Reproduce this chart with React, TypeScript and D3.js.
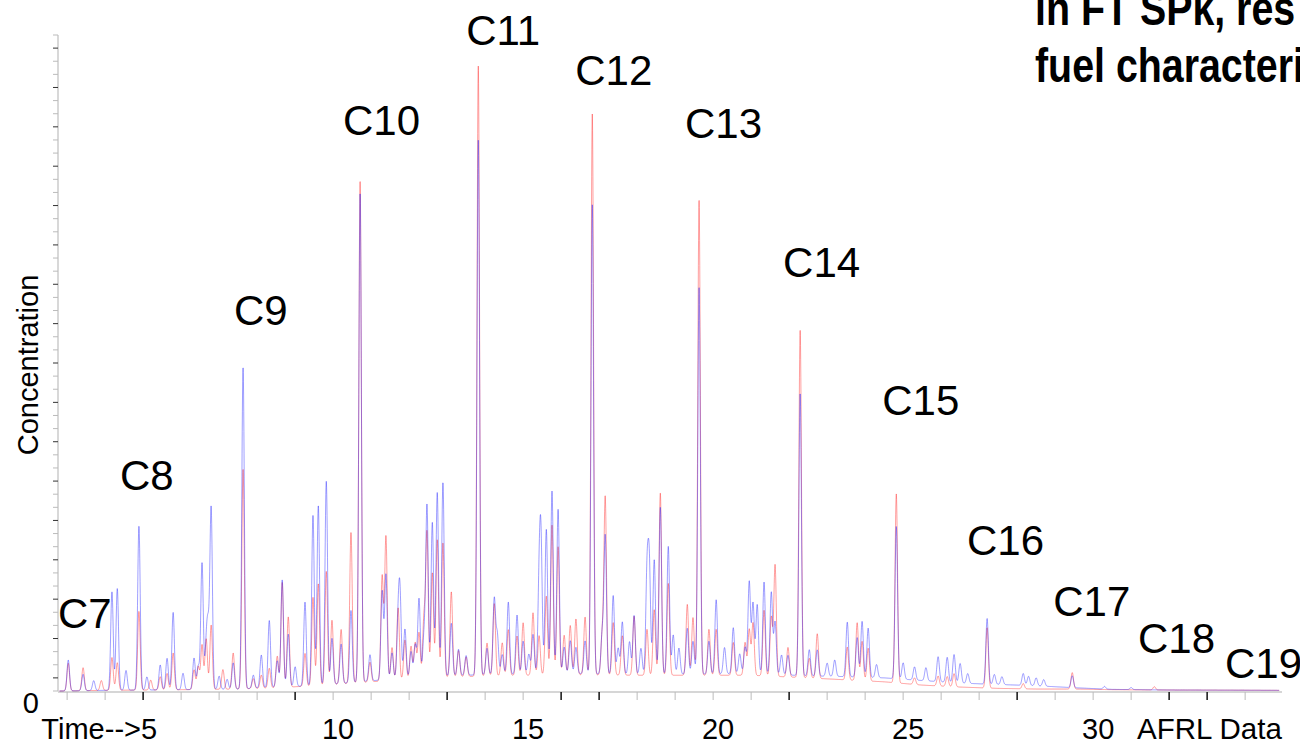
import * as d3 from "d3";

// x axis: retention time (min)
const timeLabels = [5, 10, 15, 20, 25, 30];
const darkTimeTicks = [5, 9, 13, 16, 17, 22, 28, 32, 33];

// baseline hump under each trace: [time, concentration]
const blueBaseline: [number, number][] = [
  [2.76, 0], [4, 0.1], [6, 0.2], [7.5, 0.3], [8.5, 0.6], [9.5, 0.8], [10.5, 1.3],
  [11.5, 1.8], [12.5, 2.2], [14, 2.5], [16, 2.7], [18, 2.5], [20, 2.6], [21, 2.7],
  [22.5, 2.3], [23.5, 2.2], [24.5, 2.0], [25.5, 1.6], [26.5, 1.2], [27.5, 1.0],
  [28.5, 0.8], [29.5, 0.5], [30.5, 0.25], [32, 0.15], [34.97, 0.1],
];
const redBaseline: [number, number][] = [
  [2.76, 0], [4, 0.1], [6, 0.2], [7.5, 0.3], [8.5, 0.5], [9.5, 0.8], [10.5, 1.2],
  [11.5, 1.6], [12.5, 2.0], [14, 2.3], [16, 2.5], [18, 2.4], [20, 2.4], [21, 2.4],
  [22.5, 2.0], [23.5, 1.7], [24.5, 1.4], [25.5, 0.9], [26.5, 0.6], [27.5, 0.4],
  [28.5, 0.3], [29.5, 0.3], [30.5, 0.2], [32, 0.15], [34.97, 0.1],
];

// peaks above baseline: [time, height]
const bluePeaks: [number, number][] = [
  [3.03, 4.7], [3.42, 2.5], [3.7, 1.5], [4.18, 15], [4.32, 15.5], [4.55, 3], [4.89, 25],
  [5.1, 2], [5.45, 3.8], [5.63, 4.8], [5.79, 11.8], [6.05, 2.5], [6.34, 4.8], [6.45, 3.5],
  [6.55, 19.3], [6.66, 6], [6.71, 8.3], [6.79, 27.5], [7.0, 2], [7.21, 1.5], [7.37, 4],
  [7.63, 49], [7.9, 2], [8.11, 5], [8.32, 10.2], [8.53, 4], [8.66, 16.3], [8.82, 8],
  [9.0, 3], [9.26, 12.8], [9.47, 26], [9.61, 27.4], [9.82, 31], [9.97, 7], [10.21, 6],
  [10.47, 11], [10.71, 74.5], [10.97, 4], [11.29, 13.5], [11.39, 16], [11.55, 4],
  [11.71, 8], [11.76, 12], [11.89, 7.5], [12.05, 4], [12.16, 5], [12.26, 12], [12.39, 6],
  [12.47, 26], [12.61, 23.5], [12.74, 28], [12.89, 29.5], [13.11, 8], [13.3, 4], [13.5, 3],
  [13.82, 81.5], [14.05, 4], [14.24, 11.5], [14.32, 6], [14.45, 3], [14.61, 11],
  [14.84, 9], [15.0, 5], [15.15, 3], [15.26, 6], [15.42, 12.5], [15.47, 19], [15.61, 22],
  [15.76, 27.8], [15.92, 25], [16.08, 4], [16.24, 5], [16.39, 4], [16.63, 5], [16.82, 71.5],
  [17.08, 6], [17.16, 21], [17.37, 12], [17.5, 4], [17.61, 8], [17.8, 5], [17.92, 9],
  [18.1, 4], [18.26, 15], [18.32, 16.3], [18.45, 17.5], [18.61, 25.5], [18.82, 19.5],
  [18.95, 6], [19.1, 4], [19.32, 7], [19.47, 5], [19.63, 59], [19.89, 5], [20.08, 11.3],
  [20.3, 4], [20.53, 7], [20.7, 3], [20.84, 4], [20.95, 14], [21.05, 10.7], [21.16, 10.5],
  [21.34, 14], [21.53, 12.5], [21.63, 8], [21.8, 3], [21.97, 3], [22.29, 43], [22.53, 4],
  [22.74, 4], [23.0, 2], [23.2, 2.5], [23.53, 8.3], [23.79, 6], [23.92, 8.5], [24.08, 7.5],
  [24.3, 2], [24.82, 23.2], [25.0, 2.5], [25.3, 2], [25.6, 2], [25.92, 3.8], [26.16, 3.8],
  [26.34, 4.3], [26.5, 3], [26.7, 1.5], [27.21, 10], [27.4, 1.5], [27.6, 1.2], [28.16, 1.8],
  [28.3, 1.4], [28.5, 1.2], [28.7, 1], [29.45, 1.8], [30.3, 0.4], [31.0, 0.3],
];
const redPeaks: [number, number][] = [
  [3.03, 4.2], [3.42, 3.5], [3.9, 1.5], [4.18, 5], [4.32, 4.2], [4.89, 12], [5.2, 1.5],
  [5.45, 2], [5.63, 2.5], [5.79, 5.6], [6.34, 3], [6.45, 3.5], [6.55, 6.8], [6.66, 7.7],
  [6.79, 9.8], [7.1, 3], [7.37, 5.5], [7.63, 33.5], [7.9, 1.5], [8.11, 2], [8.32, 3],
  [8.53, 4.8], [8.66, 16], [8.82, 10.7], [9.26, 5], [9.47, 13.5], [9.61, 15.5],
  [9.82, 17.3], [9.97, 9.8], [10.21, 8.3], [10.47, 23], [10.71, 76.5], [10.97, 3],
  [11.29, 16], [11.39, 22], [11.55, 5], [11.71, 11], [11.89, 6], [12.05, 5], [12.16, 5.5],
  [12.26, 7], [12.39, 9], [12.47, 22], [12.61, 16], [12.74, 21], [12.89, 20.5], [13.11, 13],
  [13.3, 4], [13.5, 3], [13.82, 93], [14.05, 5], [14.24, 11], [14.45, 5], [14.61, 7],
  [14.84, 6], [15.0, 8], [15.26, 9.5], [15.42, 6], [15.61, 12], [15.76, 22.8], [15.92, 19.5],
  [16.08, 6], [16.24, 7.5], [16.39, 8.5], [16.63, 8.8], [16.82, 85.5], [17.08, 6],
  [17.16, 27], [17.37, 8], [17.61, 6], [17.92, 9], [18.26, 7], [18.45, 10], [18.61, 27.8],
  [18.82, 14], [19.32, 10.8], [19.47, 8.8], [19.63, 72.5], [19.89, 7], [20.08, 7],
  [20.53, 5], [20.84, 5], [20.95, 7], [21.05, 8], [21.34, 10], [21.53, 9], [21.63, 17],
  [21.97, 4.5], [22.29, 53], [22.53, 3], [22.74, 6.8], [23.53, 5], [23.79, 8.8], [23.92, 6],
  [24.08, 5], [24.82, 28.8], [25.3, 1], [25.92, 1.5], [26.16, 1.5], [26.34, 2], [27.21, 9.2],
  [28.16, 0.8], [29.45, 2.5], [31.61, 0.5],
];

// n-alkane annotations: [label, time, concentration] of the label's baseline-left corner
const carbonLabels: [string, number, number][] = [
  ["C7", 2.76, 9.6], ["C8", 4.39, 30.6], ["C9", 7.39, 55.8], ["C10", 10.26, 84.8],
  ["C11", 13.5, 98.5], ["C12", 16.37, 92.4], ["C13", 19.26, 84.3], ["C14", 21.84, 63.1],
  ["C15", 24.45, 42.1], ["C16", 26.68, 20.7], ["C17", 28.95, 11.4], ["C18", 31.18, 5.8],
  ["C19", 33.47, 2.0],
];

const titleLines = ["in FT SPk, res", "fuel characteri"];

const width = 1300;
const height = 746;
const margin = { top: 35, left: 58, right: 18, bottom: 55 };
const tMin = 2.76;
const tMax = 34.97;
const peakSigma = 0.033;
const font = "'Liberation Sans', Arial, sans-serif";

const x = d3.scaleLinear().domain([tMin, tMax]).range([margin.left, width - margin.right]);
const y = d3.scaleLinear().domain([0, 100]).range([height - margin.bottom, margin.top]);

function trace(baseline: [number, number][], peaks: [number, number][]) {
  const base = d3.scaleLinear()
    .domain(baseline.map((d) => d[0]))
    .range(baseline.map((d) => d[1]))
    .clamp(true);
  const times = d3.range(2.8, 34.9, 0.004);
  const pts = times.map((t) => {
    let v = base(t);
    for (const [tp, h] of peaks) {
      const dt = t - tp;
      if (Math.abs(dt) < 0.2) v += h * Math.exp(-(dt * dt) / (2 * peakSigma * peakSigma));
    }
    return [t, v] as [number, number];
  });
  return d3.line<[number, number]>().x((d) => x(d[0])).y((d) => y(d[1]))(pts) ?? "";
}

export default function App() {
  const redPath = trace(redBaseline, redPeaks);
  const bluePath = trace(blueBaseline, bluePeaks);
  const y0 = y(0);

  return (
    <svg
      width={width}
      height={height}
      style={{ position: "absolute", left: 0, top: 0, background: "#fff" }}
      fontFamily={font}
    >
      {/* y axis */}
      <line x1={x(tMin)} x2={x(tMin)} y1={margin.top} y2={y0} stroke="#d8d8d8" strokeWidth={2} />
      {y.ticks(50).map((v, i) => (
        <line
          key={v}
          x1={x(tMin) - 5}
          x2={x(tMin)}
          y1={y(v)}
          y2={y(v)}
          stroke={i % 3 === 1 ? "#333" : "#bbb"}
          strokeWidth={1}
        />
      ))}

      {/* x axis */}
      <line x1={x(tMin)} x2={x(tMax)} y1={y0 + 1} y2={y0 + 1} stroke="#c8c8c8" strokeWidth={1.5} />
      {d3.range(3, 35).map((t) => (
        <line
          key={t}
          x1={x(t)}
          x2={x(t)}
          y1={y0 + 1}
          y2={y0 + 9}
          stroke={darkTimeTicks.includes(t) ? "#111" : "#bbb"}
          strokeWidth={darkTimeTicks.includes(t) ? 1.5 : 1}
        />
      ))}

      {/* traces */}
      <path d={redPath} fill="none" stroke="#ff1a1a" strokeOpacity={0.42} strokeWidth={1} />
      <path d={bluePath} fill="none" stroke="#1a1aff" strokeOpacity={0.42} strokeWidth={1} />

      {/* tick labels */}
      {timeLabels.filter((t) => t !== 5).map((t) => (
        <text key={t} x={x(t) + 5} y={739} fontSize={29} textAnchor="middle" fill="#000">
          {t}
        </text>
      ))}
      <text x={x(5) + 14} y={739} fontSize={29} textAnchor="end" fill="#000">
        Time--&gt;5
      </text>
      <text x={1137} y={739} fontSize={29.5} fill="#000">
        AFRL Data
      </text>
      <text x={39} y={713} fontSize={29} textAnchor="end" fill="#000">
        0
      </text>
      <text
        transform={`translate(38, ${(margin.top + y0) / 2 + 2}) rotate(-90)`}
        fontSize={29}
        textAnchor="middle"
        fill="#000"
      >
        Concentration
      </text>

      {/* carbon number labels */}
      {carbonLabels.map(([label, t, v]) => (
        <text key={label} x={x(t)} y={y(v)} fontSize={42} fill="#000">
          {label}
        </text>
      ))}

      {/* slide text clipped at the right edge (narrow bold face) */}
      {titleLines.map((line, i) => (
        <text
          key={line}
          transform={`translate(1035, ${25 + i * 57}) scale(0.82, 1)`}
          fontSize={48}
          fontWeight={700}
          fill="#000"
        >
          {line}
        </text>
      ))}
    </svg>
  );
}
